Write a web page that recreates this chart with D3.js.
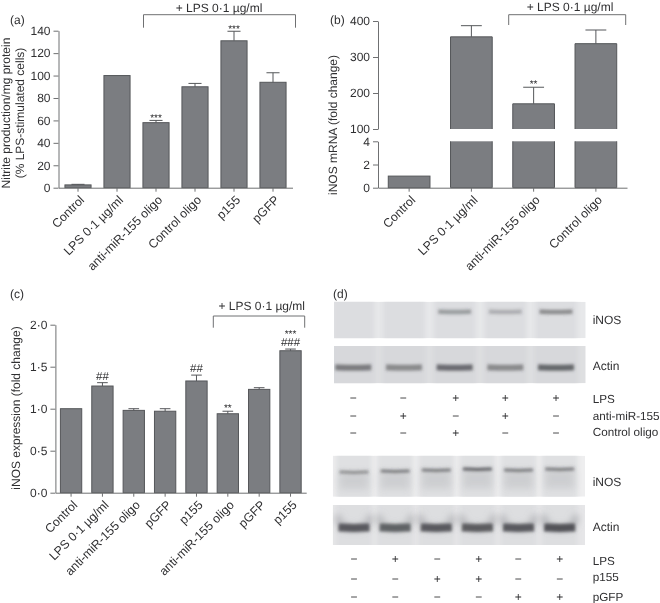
<!DOCTYPE html>
<html><head><meta charset="utf-8">
<script src="https://cdnjs.cloudflare.com/ajax/libs/d3/7.8.5/d3.min.js"></script>
<style>
html,body{margin:0;padding:0;background:#fff}
svg{display:block;filter:blur(0.35px)}
text{font-family:"Liberation Sans",Arial,sans-serif;fill:#2f2f31;text-rendering:geometricPrecision}
</style></head><body>
<svg id="c" width="660" height="603"></svg>
<script>
const lpsLabel = "+ LPS 0·1 µg/ml";
const catsA = ["Control","LPS 0·1 µg/ml","anti-miR-155 oligo","Control oligo","p155","pGFP"];
const valsA = [2.5,100,58,90,131,94];
const errA  = [0.5,0,2,3,8.5,8.5];
const marksA = [[],[],["***"],[],["***"],[]];
const ticksA = [0,20,40,60,80,100,120,140];

const catsB = ["Control","LPS 0·1 µg/ml","anti-miR-155 oligo","Control oligo"];
const valsB = [1,356,170,337];
const errB  = [0,31,46,38];
const marksB = [[],[],["**"],[]];
const ticksBLow = [0,2,4];
const ticksBHigh = [100,200,300,400];

const catsC = ["Control","LPS 0·1 µg/ml","anti-miR-155 oligo","pGFP","p155","anti-miR-155 oligo","pGFP","p155"];
const valsC = [1,1.27,0.98,0.97,1.33,0.94,1.23,1.69];
const errC  = [0,0.04,0.02,0.03,0.07,0.03,0.02,0.02];
const marksC = [[],["##"],[],[],["##"],["**"],[],["###","***"]];
const ticksC = [0,0.5,1,1.5,2];

const blot1Rows = ["LPS","anti-miR-155","Control oligo"];
const blot1Signs = [["−","−","+","+","+"],["−","+","−","+","−"],["−","−","+","−","−"]];
const blot1Inos = [0,0,0.42,0.3,0.52];
const blot1Actin = [0.62,0.52,0.72,0.52,0.75];
const blot2Rows = ["LPS","p155","pGFP"];
const blot2Signs = [["−","+","−","+","−","+"],["−","−","+","+","−","−"],["−","−","−","−","+","+"]];
const blot2Inos = [0.5,0.62,0.62,0.8,0.62,0.62];
const blot2Actin = [0.8,0.75,0.8,0.78,0.8,0.85];

const BAR="#7b7d81", EDGE="#55575a", AX="#6f7072", FS=12, XFS=12.3;
const svg=d3.select("#c");
const defs=svg.append("defs");
[["b1",1.5],["b2",2.5],["b3",3.5]].forEach(([id,s])=>{
  defs.append("filter").attr("id",id).attr("filterUnits","userSpaceOnUse").attr("x",320).attr("y",290).attr("width",340).attr("height",300)
    .append("feGaussianBlur").attr("stdDeviation",s);
});
function styleAxis(g){
  g.selectAll("path,line").attr("stroke",AX).attr("stroke-width",1);
  g.selectAll("text").attr("font-size",FS).attr("fill","#2f2f31");
}
function yAxis(y,x0,ticks,fmt){
  const g=svg.append("g").attr("transform",`translate(${x0},0)`)
    .call(d3.axisLeft(y).tickValues(ticks).tickFormat(fmt||d3.format("d")).tickSizeInner(5).tickSizeOuter(0).tickPadding(3));
  styleAxis(g); return g;
}
function errorsAndMarks(cx,yf,vals,errs,marks,cap,off){
  vals.forEach((v,i)=>{
    const X=cx(i);
    if(errs[i]>0){
      const t=yf(v+errs[i]);
      svg.append("path").attr("d",`M${X},${yf(v)}V${t}M${X-cap/2},${t}H${X+cap/2}`).attr("stroke",EDGE).attr("stroke-width",1).attr("fill","none");
    }
    let base=yf(v+errs[i])-off;
    marks[i].forEach(m=>{
      const star=m[0]==="*";
      svg.append("text").attr("x",X).attr("y",star?base+3:base).attr("text-anchor","middle").attr("font-size",star?10:11.5).text(m);
      base-=12;
    });
  });
}
function bracket(x1,x2,yt,yb,tx,ty){
  svg.append("path").attr("d",`M${x1},${yb}V${yt}H${x2}V${yb}`).attr("fill","none").attr("stroke",AX).attr("stroke-width",1);
  svg.append("text").attr("x",tx).attr("y",ty).attr("text-anchor","middle").attr("font-size",FS).text(lpsLabel);
}
function panel(t,x,y){svg.append("text").attr("x",x).attr("y",y).attr("font-size",FS).text(t);}
function yTitle(lines,x,cy){
  lines.forEach((l,i)=>svg.append("text").attr("transform",`translate(${x+i*14},${cy}) rotate(-90)`).attr("text-anchor","middle").attr("font-size",FS).text(l));
}
function idxScale(n,r0,r1,pad){return d3.scaleBand().domain(d3.range(n)).range([r0,r1]).paddingInner(pad).paddingOuter(pad/2);}
function catAxis(cats,sc,y0){
  const g=svg.append("g").attr("transform",`translate(0,${y0})`)
    .call(d3.axisBottom(sc).tickFormat(i=>cats[i]).tickSizeInner(4).tickSizeOuter(0));
  styleAxis(g);
  g.selectAll(".tick text").attr("text-anchor","end").attr("dy",0).attr("y",0).attr("font-size",XFS)
    .attr("transform","translate(7,13) rotate(-45)");
}
function drawSimple(cats,vals,errs,marks,ticks,x0,x1,yr,ymax,pad,fmt,off){
  const x=idxScale(cats.length,x0,x1,pad), y=d3.scaleLinear().domain([0,ymax]).range(yr);
  const w=x.bandwidth();
  svg.append("g").selectAll("rect").data(vals).join("rect")
    .attr("x",(d,i)=>x(i)).attr("width",w).attr("y",d=>y(d)).attr("height",d=>y(0)-y(d))
    .attr("fill",BAR).attr("stroke",EDGE).attr("stroke-width",1);
  errorsAndMarks(i=>x(i)+w/2,y,vals,errs,marks,w/2,off);
  catAxis(cats,x,yr[0]);
  yAxis(y,x0,ticks,fmt);
}
// (a)
drawSimple(catsA,valsA,errA,marksA,ticksA,58.5,292.5,[187.7,30.7],140,0.33,null,2);
panel("(a)",10,24);
yTitle(["Nitrite production/mg protein","(% LPS-stimulated cells)"],9.5,113);
bracket(143.5,295.5,14.7,27.7,219,11.5);
// (b) broken axis
{
  const x=idxScale(catsB.length,378,627,0.33), w=x.bandwidth();
  const yL=d3.scaleLinear().domain([0,4]).range([187.7,141.3]);
  const yH=d3.scaleLinear().domain([100,400]).range([129,21]);
  const g=svg.append("g").attr("fill",BAR).attr("stroke",EDGE).attr("stroke-width",1);
  valsB.forEach((v,i)=>{
    if(v<=4){g.append("rect").attr("x",x(i)).attr("width",w).attr("y",yL(v)).attr("height",yL(0)-yL(v));}
    else{
      g.append("rect").attr("x",x(i)).attr("width",w).attr("y",yL(4)).attr("height",yL(0)-yL(4)).attr("stroke","none");
      g.append("path").attr("d",`M${x(i)},${yL(4)}V${yL(0)}H${x(i)+w}V${yL(4)}`).attr("fill","none");
      g.append("rect").attr("x",x(i)).attr("width",w).attr("y",yH(v)).attr("height",yH(100)-yH(v)).attr("stroke","none");
      g.append("path").attr("d",`M${x(i)},${yH(100)}V${yH(v)}H${x(i)+w}V${yH(100)}`).attr("fill","none");
    }
  });
  errorsAndMarks(i=>x(i)+w/2,v=>yH(v),valsB.map((v,i)=>i?v:100),errB,marksB,w/2,3);
  catAxis(catsB,x,187.7);
  yAxis(yL,378,ticksBLow);
  yAxis(yH,378,ticksBHigh);
}
panel("(b)",330,24);
yTitle(["iNOS mRNA (fold change)"],337,125);
bracket(508.7,625.7,14.7,25,570,10.5);
// (c)
drawSimple(catsC,valsC,errC,marksC,ticksC,55.4,306.2,[492.7,324.7],2,0.32,d=>d3.format(".1f")(d).replace(".","·"),3);
panel("(c)",10,298);
yTitle(["iNOS expression (fold change)"],20,408);
bracket(213.3,304.7,316,327.7,261.7,310.3);
// (d)
panel("(d)",333,298);
function blot(x0,x1,y0,y1,centers,vals,opt){
  const clip="c"+Math.round(y0);
  defs.append("clipPath").attr("id",clip).append("rect").attr("x",x0).attr("y",y0).attr("width",x1-x0).attr("height",y1-y0);
  const g=svg.append("g").attr("clip-path",`url(#${clip})`);
  g.append("rect").attr("x",x0).attr("y",y0).attr("width",x1-x0).attr("height",y1-y0).attr("fill",opt.bg);
  const lw=opt.w, cy=y0+opt.at*(y1-y0), lane=opt.laneW;
  centers.forEach(cx=>{
    g.append("rect").attr("x",cx-lane/2).attr("y",y0-8).attr("width",lane).attr("height",y1-y0+16)
      .attr("fill",opt.lane).attr("filter","url(#b2)");
  });
  centers.forEach((cx,i)=>{
    const yc=cy+(opt.shift?opt.shift[i]:0);
    if(opt.smear){
      g.append("rect").attr("x",cx-lw/2).attr("y",yc).attr("width",lw).attr("height",(y1-yc)*0.7)
        .attr("fill","#a6a7ab").attr("opacity",opt.smear).attr("filter","url(#b3)");
    }
    if(opt.smile){
      const h=opt.smile;
      g.append("path").attr("d",d3.line().curve(d3.curveBasis)([[cx-lw/2-1,cy-h],[cx-lw/2+1,cy-h/3],[cx-lw/2+5,cy],[cx,cy+1],[cx+lw/2-5,cy],[cx+lw/2-1,cy-h/3],[cx+lw/2+1,cy-h]]))
        .attr("fill","none").attr("stroke","#8f9094").attr("stroke-opacity",vals[i]*0.75).attr("stroke-width",opt.t*0.7).attr("filter","url(#b3)");
    }
    if(vals[i]>0) g.append("path").attr("d",d3.line().curve(d3.curveBasis)([[cx-lw/2,yc],[cx,yc+.8],[cx+lw/2,yc]]))
      .attr("fill","none").attr("stroke","#3f4044").attr("stroke-opacity",vals[i]).attr("stroke-width",opt.t).attr("filter","url(#b1)");
  });
}
const lanes1=d3.scalePoint().domain(d3.range(5)).range([353.3,556]);
const lanes2=d3.scalePoint().domain(d3.range(6)).range([354,559.7]);
const c1=d3.range(5).map(lanes1), c2=d3.range(6).map(lanes2);
const signRow1=[353.3,403.3,455.7,505.3,556], signRow2=[354,395.3,437.3,478.7,518.3,559.7];
blot(334,585.7,301.7,338.3,c1,blot1Inos,{bg:"#e7e8ea",lane:"#dcdde0",laneW:42,w:33,at:0.27,t:4.5});
blot(334,585.7,346,383.3,c1,blot1Actin,{bg:"#dedfe1",lane:"#d7d8db",laneW:44,w:36,at:0.57,t:6});
blot(332.7,585,455.7,496.7,c2,blot2Inos,{bg:"#eeeeef",lane:"#dfe0e2",laneW:36,w:29,at:0.36,t:3,shift:[1.5,0.5,-0.5,-1.5,-0.5,-1.5],smear:0.3});
blot(332.7,585,505,545,c2,blot2Actin,{bg:"#e6e6e8",lane:"#dddee0",laneW:36,w:31,at:0.56,t:8,smile:12});
function rowBlock(t,x,y,fs){svg.append("text").attr("x",x).attr("y",y).attr("font-size",fs||FS).text(t);}
function signs(mat,rows,centers,ys,ly){
  mat.forEach((r,j)=>{
    r.forEach((s,i)=>svg.append("text").attr("x",centers[i]).attr("y",ys[j]+4).attr("text-anchor","middle").attr("font-size",FS).text(s));
    rowBlock(rows[j],592.7,ly[j],11.7);
  });
}
signs(blot1Signs,blot1Rows,signRow1,[398,415.7,432.5],[402.5,419.5,436]);
signs(blot2Signs,blot2Rows,signRow2,[558.5,578.5,596.5],[564.5,581,601]);
rowBlock("iNOS",592.7,324);rowBlock("Actin",592.7,370);
rowBlock("iNOS",592.7,485.5);rowBlock("Actin",592.7,530.5);
</script>
</body></html>
